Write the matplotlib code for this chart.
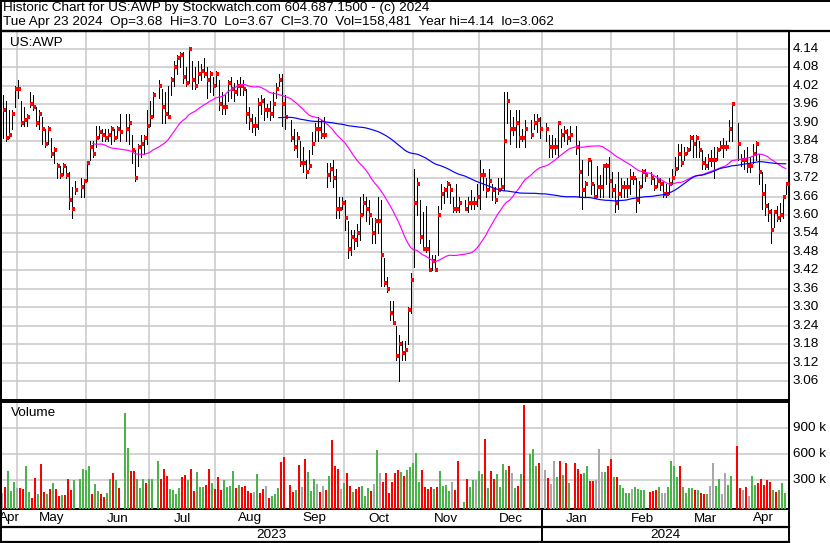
import numpy as np
import pandas as pd
import matplotlib
matplotlib.use("Agg")
import matplotlib.pyplot as plt
from matplotlib.lines import Line2D

# ---------------- data (one slot per weekday, None = market holiday) ----------------
start_date = "2023-04-24"
end_date = "2024-04-23"

high = [3.99,3.97,3.94,3.94,4.02,4.04,3.97,3.95,3.93,4.00,3.99,3.95,3.94,3.92,3.88,3.89,3.85,3.82,3.77,3.76,
        3.77,3.76,3.74,3.69,3.71,None,3.72,3.71,3.77,3.84,3.84,3.89,3.89,3.88,3.88,3.88,3.89,3.88,3.89,3.93,
        None,3.93,3.93,3.86,3.81,3.83,3.86,3.86,3.94,3.97,4.00,None,4.04,4.01,4.00,4.02,4.05,4.10,4.12,4.13,
        4.13,4.08,4.14,4.10,4.08,4.10,4.09,4.11,4.08,4.07,4.05,4.07,4.04,4.00,3.99,4.04,4.05,4.03,4.04,4.05,
        4.04,4.01,3.95,3.93,3.92,3.98,3.99,3.98,3.96,3.97,4.00,4.03,4.06,4.06,3.99,None,3.91,3.88,3.87,3.84,
        3.82,3.78,3.81,3.87,3.90,3.92,3.91,3.92,3.77,3.77,3.78,3.75,3.66,3.66,3.65,3.58,3.55,3.55,3.57,3.66,
        3.67,3.66,3.65,3.59,3.59,3.66,3.65,3.46,3.40,3.32,3.32,3.24,3.21,3.19,3.19,3.30,3.41,3.75,3.72,3.65,
        3.61,3.63,3.52,3.47,3.47,3.63,3.70,3.69,3.71,3.70,3.66,3.70,3.66,None,3.65,3.66,3.68,3.66,3.70,3.78,
        3.75,3.72,3.75,3.70,3.69,3.72,3.72,4.00,4.00,3.94,3.92,3.94,3.94,3.88,3.91,None,3.91,3.93,3.93,3.92,
        None,3.90,3.86,3.86,3.85,3.90,3.88,3.89,3.88,3.89,None,3.89,3.84,3.78,3.71,3.78,3.78,3.70,3.76,3.73,
        3.76,3.77,3.79,3.74,3.70,3.74,3.72,3.71,3.72,3.75,3.74,3.72,3.71,3.75,3.75,None,3.74,3.72,3.73,3.72,
        3.71,3.70,3.72,3.75,3.79,3.83,3.83,3.82,3.82,3.86,3.86,3.86,3.84,3.81,3.79,3.80,3.81,3.82,3.82,3.84,
        3.85,3.84,3.91,3.96,None,3.90,3.80,3.81,3.82,3.79,3.83,3.84,3.80,3.74,3.70,3.64,3.62,3.61,3.63,3.64,
        3.66,3.70]
low = [3.85,3.84,3.85,3.88,3.95,3.98,3.89,3.89,3.89,3.95,3.94,3.89,3.88,3.83,3.82,3.83,3.79,3.77,3.72,3.72,
       3.73,3.72,3.62,3.59,3.67,None,3.66,3.66,3.71,3.78,3.79,3.82,3.85,3.84,3.84,3.84,3.83,3.84,3.85,3.84,
       None,3.84,3.83,3.77,3.71,3.76,3.79,3.80,3.83,3.89,3.92,None,3.98,3.90,3.90,3.92,3.99,4.02,4.06,4.08,
       4.03,4.02,4.03,4.01,4.01,4.03,4.04,4.05,3.98,4.00,3.99,4.02,3.94,3.93,3.93,3.97,3.98,3.97,3.99,3.99,
       3.99,3.90,3.88,3.87,3.86,3.88,3.93,3.91,3.92,3.91,3.92,3.98,4.02,3.89,3.88,None,3.84,3.81,3.79,3.76,
       3.74,3.72,3.75,3.80,3.84,3.84,3.85,3.85,3.69,3.71,3.69,3.59,3.59,3.62,3.55,3.46,3.47,3.49,3.50,3.52,
       3.60,3.58,3.57,3.51,3.51,3.54,3.37,3.37,3.35,3.26,3.25,3.13,3.06,3.13,3.13,3.18,3.28,3.43,3.60,3.51,
       3.49,3.48,3.42,3.42,3.42,3.47,3.62,3.64,3.66,3.64,3.61,3.61,3.61,None,3.62,3.61,3.62,3.62,3.63,3.62,
       3.68,3.66,3.68,3.65,3.64,3.67,3.68,3.68,3.90,3.83,3.86,3.82,3.82,3.84,3.82,None,3.85,3.88,3.87,3.85,
       None,3.84,3.79,3.79,3.80,3.79,3.82,3.84,3.83,3.84,None,3.80,3.66,3.62,3.66,3.73,3.67,3.66,3.66,3.66,
       3.66,3.70,3.66,3.66,3.61,3.62,3.66,3.66,3.66,3.67,3.70,3.61,3.64,3.69,3.71,None,3.70,3.68,3.69,3.68,
       3.66,3.66,3.67,3.70,3.73,3.75,3.76,3.78,3.80,3.81,3.79,3.79,3.79,3.75,3.75,3.75,3.76,3.72,3.78,3.81,
       3.79,3.81,3.84,3.84,None,3.78,3.76,3.75,3.74,3.74,3.77,3.78,3.70,3.62,3.60,3.58,3.51,3.56,3.58,3.58,
       3.59,3.67]
close = [3.94,3.85,3.86,3.93,4.01,4.01,3.90,3.91,3.92,3.96,3.95,3.90,3.93,3.88,3.83,3.88,3.80,3.81,3.76,3.73,
         3.76,3.73,3.65,3.62,3.68,None,3.69,3.71,3.77,3.82,3.80,3.85,3.87,3.86,3.85,3.86,3.88,3.85,3.88,3.87,
         None,3.88,3.90,3.81,3.72,3.82,3.83,3.85,3.89,3.92,3.99,None,4.02,3.95,3.93,3.92,4.04,4.08,4.11,4.12,
         4.05,4.03,4.14,4.04,4.02,4.06,4.07,4.06,4.04,4.06,4.02,4.06,3.96,3.95,3.95,4.03,4.01,4.00,4.02,4.02,
         4.01,3.93,3.91,3.89,3.89,3.96,3.97,3.94,3.94,3.93,3.96,4.01,4.04,3.96,3.92,None,3.85,3.82,3.85,3.77,
         3.77,3.74,3.76,3.83,3.88,3.88,3.86,3.86,3.73,3.75,3.72,3.62,3.62,3.64,3.59,3.49,3.53,3.52,3.54,3.60,
         3.64,3.62,3.60,3.54,3.58,3.58,3.47,3.38,3.36,3.28,3.25,3.14,3.18,3.15,3.16,3.29,3.39,3.64,3.70,3.53,
         3.49,3.49,3.42,3.45,3.42,3.60,3.67,3.68,3.70,3.68,3.62,3.62,3.64,None,3.62,3.64,3.64,3.64,3.66,3.73,
         3.73,3.68,3.71,3.68,3.65,3.68,3.69,3.84,3.97,3.88,3.88,3.90,3.85,3.85,3.88,None,3.86,3.90,3.91,3.88,
         None,3.88,3.82,3.82,3.82,3.90,3.86,3.87,3.85,3.86,None,3.82,3.74,3.68,3.70,3.78,3.70,3.66,3.69,3.69,
         3.76,3.76,3.71,3.68,3.64,3.67,3.69,3.69,3.69,3.72,3.72,3.65,3.69,3.74,3.73,None,3.72,3.69,3.71,3.70,
         3.67,3.67,3.70,3.72,3.75,3.80,3.77,3.80,3.81,3.85,3.83,3.85,3.81,3.77,3.76,3.78,3.78,3.78,3.81,3.82,
         3.82,3.82,3.88,3.96,None,3.83,3.78,3.78,3.76,3.76,3.80,3.83,3.74,3.67,3.63,3.61,3.55,3.61,3.59,3.60,
         3.66,3.70]
volume_k = [158,227,408,177,277,215,208,196,465,165,100,327,142,488,169,142,200,269,196,119,
            131,131,315,188,300,None,315,431,415,465,142,254,177,142,108,154,315,385,300,212,
            None,1081,673,408,408,319,212,315,265,315,315,None,523,315,431,350,196,185,142,212,
            342,358,304,431,177,396,223,223,246,431,269,200,338,188,300,223,231,408,212,246,
            223,235,177,158,165,373,154,196,235,96,119,142,212,512,569,None,246,165,188,477,
            223,546,396,177,315,258,165,235,188,350,765,465,431,200,269,385,238,165,200,219,
            235,119,212,177,258,650,385,281,385,158,281,385,419,396,350,419,458,500,611,281,
            419,223,200,223,200,223,408,235,246,177,277,188,523,None,46,315,223,304,304,408,
            373,777,212,408,315,373,223,488,419,465,385,212,235,373,1169,None,604,662,465,500,
            None,419,327,258,523,338,523,362,500,269,None,500,431,373,385,465,292,292,304,662,
            396,396,465,546,338,338,246,212,154,154,200,223,200,188,188,None,165,177,188,223,
            154,154,223,523,465,342,465,223,154,212,212,188,188,154,142,142,235,500,235,315,
            142,385,246,350,None,696,212,188,223,119,350,246,269,315,246,304,281,188,165,188,
            269,158]
# volume bar colour code per slot: u = up (green), d = down (red), n = unchanged (grey), . = holiday
volume_dir_rows = [
    "n d u u u n d d u u", "d d u d d u d u d d", "u d d d u . u u u u", "d u u d d u u d u d",
    ". u u d d u u u d u", "u . u d d d u u u u", "d d u d d u u u d d", "u d d d u u u u d u",
    "d d d d n u d d n d", "u u u d d . d d u d", "n d u u u n d n d u", "d d d n u d d u d d",
    "u u u d n u n d d d", "d d d u d u u u u u", "d d d d u d u u u u", "n d d . u d u u n u",
    "u d u d d u u u u d", "n u d u d . u u u d", ". n d n n u d u d u", ". d d d u u d d n n",
    "n u d d u d u u u u", "n u u u u . d d d u", "n n u u u u d u u u", "u d u d d u n n u u",
    "n n u u . d d n d n", "u u d d d d d u d u", "u u"]
ma_short = 30
ma_long = 90
price_ticks = [3.06,3.12,3.18,3.24,3.30,3.36,3.42,3.48,3.54,3.60,3.66,3.72,3.78,3.84,3.90,3.96,4.02,4.08,4.14]
volume_ticks_k = [300, 600, 900]
month_names = ["Apr","May","Jun","Jul","Aug","Sep","Oct","Nov","Dec","Jan","Feb","Mar","Apr"]
title_line1 = "Historic Chart for US:AWP by Stockwatch.com 604.687.1500 - (c) 2024"
title_line2 = "Tue Apr 23 2024  Op=3.68  Hi=3.70  Lo=3.67  Cl=3.70  Vol=158,481  Year hi=4.14  lo=3.062"
symbol = "US:AWP"

# ---------------- derived ----------------
def arr(v):
    return np.array([np.nan if a is None else a for a in v], dtype=float)

H_ = arr(high); L_ = arr(low); C_ = arr(close); V_ = arr(volume_k)
dates = pd.bdate_range(start_date, end_date)
n = len(dates)
x = np.arange(n)
dirs = "".join(volume_dir_rows).replace(" ", "")
dirs = (dirs + "u" * n)[:n]

W, Hp = 830, 543
fig = plt.figure(figsize=(W / 100, Hp / 100), dpi=100)
fig.patch.set_facecolor("white")

def fxp(px): return px / W
def fyp(px): return 1 - px / Hp

FONT = "Liberation Sans"
FS = 9.7
GRID = "#c8c8c8"
x_left, x_right = -0.57, 262.1

ax = fig.add_axes([fxp(1), fyp(400), fxp(789) - fxp(1), fyp(31) - fyp(400)])
axv = fig.add_axes([fxp(1), fyp(509.3), fxp(789) - fxp(1), fyp(402) - fyp(509.3)])

months = pd.date_range("2023-05-01", "2024-04-01", freq="MS")
grid_x = []
for m in months:
    idx = int(np.searchsorted(dates.values, np.datetime64(m)))
    off = 1 if m.weekday() >= 5 else 0
    grid_x.append(idx - off - 0.15)

for a in (ax, axv):
    a.set_xlim(x_left, x_right)
    a.set_xticks([]); a.set_yticks([])
    for gx in grid_x:
        a.axvline(gx, color=GRID, lw=1.1, zorder=0.5)
    for s in a.spines.values():
        s.set_color("black"); s.set_linewidth(1.4)
ax.spines["top"].set_linewidth(1.6)

ax.set_ylim(2.9985, 4.1985)
for t in price_ticks:
    ax.axhline(t, color=GRID, lw=1.1, zorder=0.5)
    fig.text(fxp(793), fyp(49 + (4.14 - t) * 307.5), f"{t:.2f}", ha="left", va="center",
             fontsize=FS, family=FONT)

ok = ~np.isnan(C_)
ax.vlines(x[ok], L_[ok], H_[ok], colors="black", lw=0.6, zorder=3, antialiased=False)
ax.hlines(C_[ok], x[ok] - 0.02, x[ok] + 1.0, colors="#ff0000", lw=1.45, zorder=4, antialiased=False)

cs = pd.Series(C_[ok], index=x[ok])
ma1 = cs.rolling(ma_short).mean()
ma2 = cs.rolling(ma_long).mean()
ax.plot(ma1.index, ma1.values, color="#ff00ff", lw=0.85, zorder=5)
ax.plot(ma2.index, ma2.values, color="#0000ff", lw=0.85, zorder=5)

ax.text(0.012, 0.968, symbol, transform=ax.transAxes, fontsize=FS, family=FONT, va="center")

col_map = {"u": "#4cb24c", "d": "#ff0000", "n": "#a8a8a8"}
vbot = -34.6
axv.set_ylim(vbot, 1203)
for t in volume_ticks_k:
    axv.axhline(t, color=GRID, lw=1.1, zorder=0.5)
    fig.text(fxp(793), fyp(506.3 - t / 300 * 26), f"{t} k", ha="left", va="center",
             fontsize=FS, family=FONT)
okv = ~np.isnan(V_)
colors = [col_map.get(dirs[i], "#4cb24c") for i in x[okv]]
axv.bar(x[okv] - 0.36, V_[okv] - vbot, bottom=vbot, width=0.67, color=colors, zorder=3,
        antialiased=False, linewidth=0)
axv.text(0.012, 0.9, "Volume", transform=axv.transAxes, fontsize=FS, family=FONT, va="center")

fig.text(fxp(3), fyp(8.5), title_line1, fontsize=FS, family=FONT, va="center")
fig.text(fxp(3), fyp(22), title_line2, fontsize=FS, family=FONT, va="center")

def xpix(v):
    return 1 + (v - x_left) / (x_right - x_left) * 788

bounds = [x_left] + grid_x + [x_right]
for k, name in enumerate(month_names):
    c = (xpix(bounds[k]) + xpix(bounds[k + 1])) / 2
    fig.text(fxp(c), fyp(518.5), name, ha="center", va="center", fontsize=FS, family=FONT)
jan_x = xpix(grid_x[8])
fig.text(fxp((xpix(x_left) + jan_x) / 2), fyp(535), "2023", ha="center", va="center", fontsize=FS, family=FONT)
fig.text(fxp((jan_x + xpix(x_right)) / 2), fyp(535), "2024", ha="center", va="center", fontsize=FS, family=FONT)

def fline(x0, y0, x1, y1, lw=1.4):
    fig.add_artist(Line2D([fxp(x0), fxp(x1)], [fyp(y0), fyp(y1)], color="black", lw=lw))

fline(1, 527, 789, 527, 1.6)
fline(1, 541.5, 789, 541.5, 1.6)
fline(jan_x, 509, jan_x, 541.5, 1.4)
fline(0.7, 0, 0.7, 541.5, 1.4)
fline(789, 400, 789, 541.5, 1.4)
fline(0, 0.7, 830, 0.7, 1.4)
fline(0, 31, 830, 31, 1.6)

fig.savefig("out.png", dpi=100, facecolor="white")
